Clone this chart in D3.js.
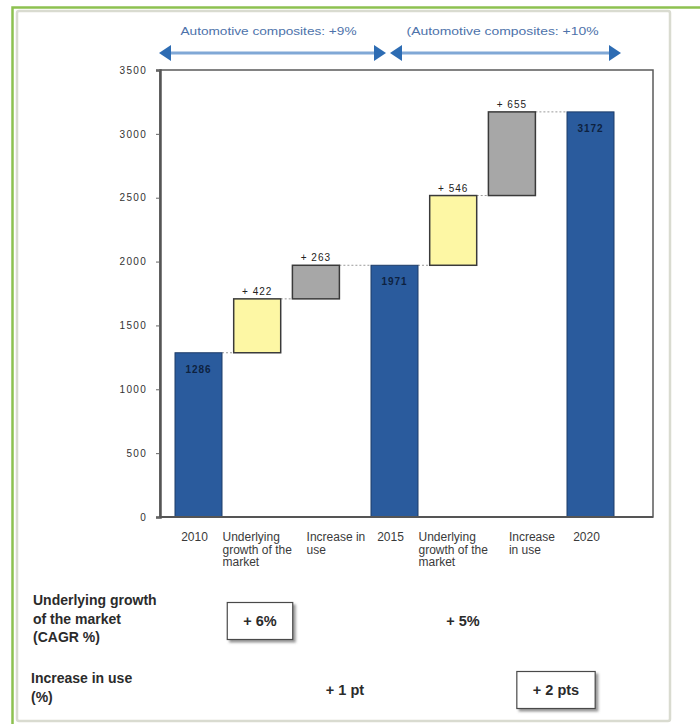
<!DOCTYPE html>
<html>
<head>
<meta charset="utf-8">
<script src="https://cdn.jsdelivr.net/npm/d3@7"></script>
<style>
  body { margin: 0; background: #fff; }
  text { font-family: "Liberation Sans", Arial, sans-serif; }
</style>
</head>
<body>
<div id="chart-area"></div>
<script>
// chart data
var stepKinds = ["total", "growth", "use", "total", "growth", "use", "total"]
var stepValues = [1286, 422, 263, 1971, 546, 655, 3172]
var stepLabels = [
  ["2010"],
  ["Underlying", "growth of the", "market"],
  ["Increase in", "use"],
  ["2015"],
  ["Underlying", "growth of the", "market"],
  ["Increase", "in use"],
  ["2020"]
]
var yTicks = [0, 500, 1000, 1500, 2000, 2500, 3000, 3500]
var periodLabels = ["Automotive composites: +9%", "(Automotive composites: +10%"]

var rowLabels = [
  ["Underlying growth", "of the market", "(CAGR %)"],
  ["Increase in use", "(%)"]
]
var growthRates = ["+ 6%", "+ 5%"]
var useRates = ["+ 1 pt", "+ 2 pts"]
var growthBoxed = [true, false]
var useBoxed = [false, true]

var cw = 700
var ch = 724

var svg = d3.select("#chart-area").append("svg")
    .attr("width", cw)
    .attr("height", ch)

var defs = svg.append("defs")
var shadow = defs.append("filter").attr("id", "shadow")
    .attr("x", "-20%").attr("y", "-20%").attr("width", "150%").attr("height", "150%")
shadow.append("feDropShadow")
    .attr("dx", 2.5).attr("dy", 2.5).attr("stdDeviation", 1.2)
    .attr("flood-color", "#555").attr("flood-opacity", 0.6)

// outer frame
svg.append("rect")
    .attr("x", 17).attr("y", 11)
    .attr("width", 653).attr("height", 710)
    .attr("rx", 2)
    .attr("fill", "none")
    .attr("stroke", "#d9dbd0")
    .attr("stroke-width", 2.5)

svg.append("path")
    .attr("d", "M12.5,724 V7.5 H700")
    .attr("fill", "none")
    .attr("stroke", "#8dc150")
    .attr("stroke-width", 2.5)

// plot area
var plot = {l: 160, t: 70, r: 653, b: 517}

var y = d3.scaleLinear()
    .domain([0, 3500])
    .range([plot.b, plot.t])

// group of each step (a new group starts at each total) and its place in the group
var groupOf = []
var innerOf = []
var gi = -1, ii = 0
stepKinds.forEach(function(k) {
  if (k === "total") { gi++; ii = 0 } else { ii++ }
  groupOf.push(gi)
  innerOf.push(ii)
})

var xGroup = d3.scalePoint()
    .domain(d3.range(gi + 1))
    .range([198.5, 590.5])

var xInner = d3.scaleLinear()
    .domain([0, 1])
    .range([0, 58.7])

var barW = 47

var steps = []
var cum = 0
stepValues.forEach(function(v, i) {
  var k = stepKinds[i]
  var base = k === "total" ? 0 : cum
  var top = k === "total" ? v : cum + v
  cum = top
  steps.push({
    kind: k, value: v, base: base, top: top,
    cx: xGroup(groupOf[i]) + xInner(innerOf[i]),
    lines: stepLabels[i]
  })
})

var fills = {total: "#2a5b9d", growth: "#fdf7a4", use: "#a7a7a7"}
var strokes = {total: "#1d3c68", growth: "#3a3a3a", use: "#3a3a3a"}

// frame
svg.append("rect")
    .attr("x", plot.l).attr("y", plot.t)
    .attr("width", plot.r - plot.l).attr("height", plot.b - plot.t)
    .attr("fill", "none")
    .attr("stroke", "#5a5a5a")
    .attr("stroke-width", 1.5)

// connectors
var connectors = steps.slice(0, -1).map(function(s, i) {
  return {x1: s.cx + barW / 2, x2: steps[i + 1].cx - barW / 2, v: s.top}
})

svg.selectAll(".connector")
    .data(connectors)
    .enter()
    .append("line")
    .attr("class", "connector")
    .attr("x1", d => d.x1)
    .attr("x2", d => d.x2)
    .attr("y1", d => y(d.v))
    .attr("y2", d => y(d.v))
    .attr("stroke", "#9a9a9a")
    .attr("stroke-width", 1)
    .attr("stroke-dasharray", "2,2")

// bars
svg.selectAll(".bar")
    .data(steps)
    .enter()
    .append("rect")
    .attr("class", "bar")
    .attr("x", d => d.cx - barW / 2)
    .attr("y", d => y(d.top))
    .attr("width", barW)
    .attr("height", d => y(d.base) - y(d.top))
    .attr("fill", d => fills[d.kind])
    .attr("stroke", d => strokes[d.kind])
    .attr("stroke-width", d => d.kind === "total" ? 1 : 1.5)

// value labels
svg.selectAll(".value")
    .data(steps)
    .enter()
    .append("text")
    .attr("class", "value")
    .attr("x", d => d.cx)
    .attr("y", d => d.kind === "total" ? y(d.top) + 20 : y(d.top) - 4)
    .attr("text-anchor", "middle")
    .attr("font-size", "10px")
    .attr("letter-spacing", "1px")
    .attr("font-weight", d => d.kind === "total" ? "bold" : "normal")
    .attr("fill", d => d.kind === "total" ? "#0e2240" : "#222")
    .text(d => d.kind === "total" ? d.value : "+ " + d.value)

// y axis
var leftAxis = d3.axisLeft(y)
    .tickValues(yTicks)
    .tickFormat(d3.format("d"))
    .tickSize(4)
    .tickPadding(9)

var yAxisGroup = svg.append("g")
    .attr("class", "left axis")
    .attr("transform", "translate(" + plot.l + ",0)")
    .call(leftAxis)

yAxisGroup.select(".domain")
    .attr("stroke", "#555")
    .attr("stroke-width", 2.5)
yAxisGroup.selectAll(".tick line").attr("stroke", "#666")
yAxisGroup.selectAll(".tick text")
    .attr("font-family", "'Liberation Serif', serif")
    .attr("font-size", "10px")
    .attr("letter-spacing", "1.3px")
    .attr("fill", "#333")

svg.append("line")
    .attr("x1", plot.l).attr("x2", plot.r)
    .attr("y1", plot.b).attr("y2", plot.b)
    .attr("stroke", "#555")
    .attr("stroke-width", 2)

// category labels
var catLabels = svg.selectAll(".cat")
    .data(steps)
    .enter()
    .append("text")
    .attr("class", "cat")
    .attr("font-size", "12px")
    .attr("fill", "#3a3a3a")

catLabels.selectAll("tspan")
    .data(d => d.lines)
    .enter()
    .append("tspan")
    .attr("y", (d, i) => 541 + i * 12.5)
    .text(d => d)

catLabels.each(function(d) {
  var maxW = d3.max(d3.select(this).selectAll("tspan").nodes(), n => n.getComputedTextLength())
  var shift = d.kind === "use" ? 20 : (d.kind === "total" ? -4 : 0)
  d3.select(this).selectAll("tspan").attr("x", d.cx - maxW / 2 + shift)
})

// period arrows
var arrowX = d3.scaleLinear()
    .domain([0, 1, 2])
    .range([157, 388, 623])

var periods = periodLabels.map(function(t, i) {
  return {label: t, x1: arrowX(i) + 2, x2: arrowX(i + 1) - 2}
})

var arrowY = 53
var pg = svg.selectAll(".period")
    .data(periods)
    .enter()
    .append("g")
    .attr("class", "period")

pg.append("line")
    .attr("x1", d => d.x1 + 8)
    .attr("x2", d => d.x2 - 8)
    .attr("y1", arrowY).attr("y2", arrowY)
    .attr("stroke", "#80a8d6")
    .attr("stroke-width", 3)

pg.append("path")
    .attr("d", d => "M" + d.x1 + "," + arrowY + " L" + (d.x1 + 12) + "," + (arrowY - 8) + " L" + (d.x1 + 12) + "," + (arrowY + 8) + " Z")
    .attr("fill", "#2d6cb3")

pg.append("path")
    .attr("d", d => "M" + d.x2 + "," + arrowY + " L" + (d.x2 - 12) + "," + (arrowY - 8) + " L" + (d.x2 - 12) + "," + (arrowY + 8) + " Z")
    .attr("fill", "#2d6cb3")

pg.append("text")
    .attr("x", (d, i) => (d.x1 + d.x2) / 2 - (i === 0 ? 4 : 3))
    .attr("y", 35)
    .attr("text-anchor", "middle")
    .attr("font-size", "11px")
    .attr("fill", "#4d72aa")
    .attr("textLength", (d, i) => i === 0 ? 176 : 192)
    .attr("lengthAdjust", "spacingAndGlyphs")
    .text(d => d.label)

// bottom table
var rows = svg.selectAll(".row-label")
    .data(rowLabels)
    .enter()
    .append("text")
    .attr("class", "row-label")
    .attr("font-size", "14px")
    .attr("font-weight", "bold")
    .attr("fill", "#2b2b2b")

var rowTop = [605, 683]
rows.selectAll("tspan")
    .data((d, r) => d.map(t => ({t: t, r: r})))
    .enter()
    .append("tspan")
    .attr("x", d => d.r === 0 ? 33 : 31)
    .attr("y", (d, i) => rowTop[d.r] + i * 18.5)
    .text(d => d.t)

var growthX = d3.scaleLinear().domain([0, 1]).range([260, 463])
var useX = d3.scaleLinear().domain([0, 1]).range([345, 556])

var cells = growthRates.map((t, i) => ({t: t, x: growthX(i), y: 621, boxed: growthBoxed[i]}))
    .concat(useRates.map((t, i) => ({t: t, x: useX(i), y: 690, boxed: useBoxed[i]})))

var cg = svg.selectAll(".cell")
    .data(cells)
    .enter()
    .append("g")
    .attr("class", "cell")

cg.append("text")
    .attr("x", d => d.x)
    .attr("y", d => d.y + 5)
    .attr("text-anchor", "middle")
    .attr("font-size", "14.5px")
    .attr("font-weight", "bold")
    .attr("fill", "#2b2b2b")
    .text(d => d.t)

cg.filter(d => d.boxed).each(function(d) {
  var g = d3.select(this)
  var tw = g.select("text").node().getComputedTextLength()
  g.insert("rect", "text")
      .attr("x", d.x - tw / 2 - 16)
      .attr("y", d.y - 18.5)
      .attr("width", tw + 32)
      .attr("height", 37)
      .attr("fill", "#fff")
      .attr("stroke", "#4a4a4a")
      .attr("stroke-width", 1.2)
      .attr("filter", "url(#shadow)")
})
</script>
</body>
</html>
